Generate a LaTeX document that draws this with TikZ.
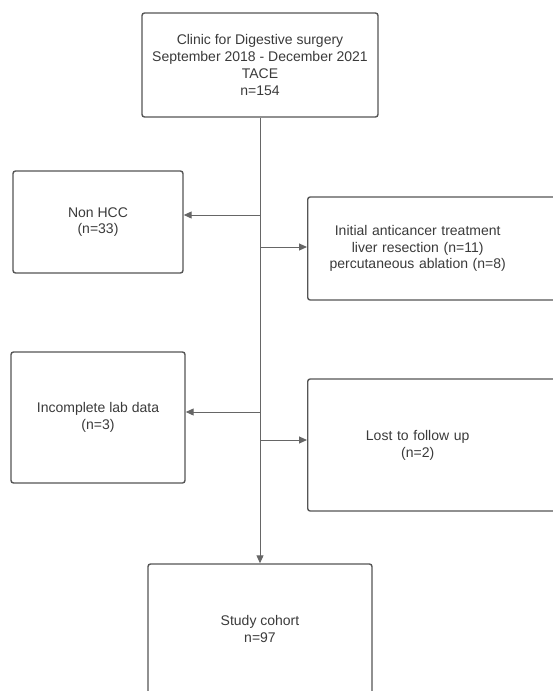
\documentclass[tikz,border=0pt]{standalone}
\usepackage{fontspec}
\setmainfont{Liberation Sans}
\usepackage{xcolor}
\usetikzlibrary{arrows.meta,positioning}

\definecolor{boxline}{HTML}{555555}
\definecolor{arrowline}{HTML}{666666}
\definecolor{boxtext}{HTML}{3A3A3A}

\begin{document}
\begin{tikzpicture}[x=1pt, y=-1pt,
    box/.style={draw=boxline, line width=1.4pt, rectangle, rounded corners=2.5pt,
        align=center, text=boxtext, font=\fontsize{14}{16.8}\selectfont, inner sep=0pt},
    sidebox/.style={box, anchor=west, text width=240pt, inner xsep=6pt},
    flow/.style={draw=arrowline, line width=1pt},
    >={Triangle[length=8pt,width=7pt]}]
    \useasboundingbox (0,0) rectangle (552,691);

    \node[box, minimum width=236pt, minimum height=104pt] (clinic) at (260,65)
        {Clinic for Digestive surgery\\September 2018 - December 2021\\TACE\\n=154};
    \node[box, minimum width=170pt, minimum height=102pt] (nonhcc) at (98,222)
        {Non HCC\\(n=33)};
    \node[sidebox, minimum height=103pt] (initial) at (307,248.5)
        {\hspace*{-32pt}Initial anticancer treatment\\\hspace*{-32pt}liver resection (n=11)\\\hspace*{-32pt}percutaneous ablation (n=8)};
    \node[box, minimum width=174pt, minimum height=131pt] (incomplete) at (98,417.5)
        {Incomplete lab data\\(n=3)};
    \node[sidebox, minimum height=132pt] (lost) at (307,445)
        {\hspace*{-32pt}Lost to follow up\\\hspace*{-32pt}(n=2)};
    \node[box, minimum width=224pt, minimum height=130pt] (cohort) at (260,629)
        {Study cohort\\n=97};

    % branch points on the trunk
    \coordinate (j1) at (260,215);
    \coordinate (j2) at (260,247);
    \coordinate (j3) at (260,412);
    \coordinate (j4) at (260,440);

    \draw[flow, ->] (clinic) -- (cohort);
    \draw[flow, ->] (j1) -- (j1 -| nonhcc.east);
    \draw[flow, ->] (j2) -- (j2 -| initial.west);
    \draw[flow, ->] (j3) -- (j3 -| incomplete.east);
    \draw[flow, ->] (j4) -- (j4 -| lost.west);
\end{tikzpicture}
\end{document}
